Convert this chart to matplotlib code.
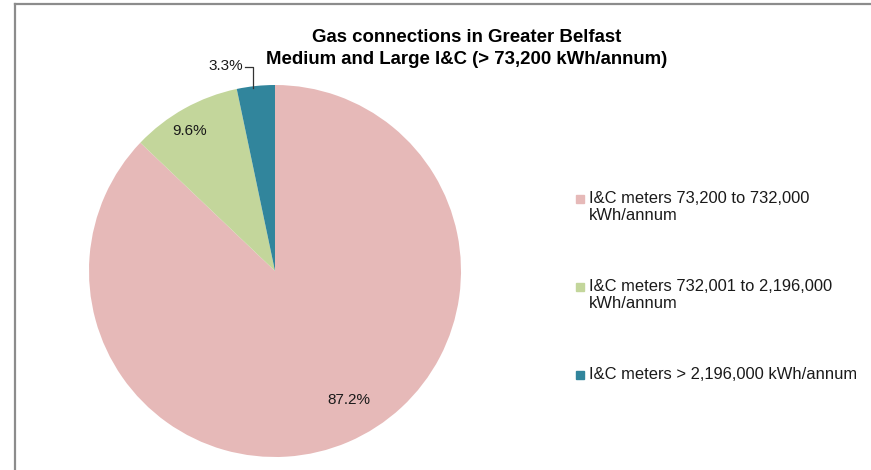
import matplotlib as mpl
mpl.use('Agg')
import matplotlib.pyplot as plt
from matplotlib.patches import Rectangle
import numpy as np

plt.rcParams['font.family'] = ['Liberation Sans', 'DejaVu Sans']

# Data
categories = ['I&C meters 73,200 to 732,000\nkWh/annum',
              'I&C meters 732,001 to 2,196,000\nkWh/annum',
              'I&C meters > 2,196,000 kWh/annum']
shares = [87.2, 9.6, 3.3]
share_labels = ['87.2%', '9.6%', '3.3%']
colors = ['#E6B9B8', '#C3D69B', '#31859C']

fig = plt.figure(figsize=(8.71, 4.70), dpi=100)

# frame lines (top and left, like the cropped chart border)
fig.add_artist(plt.Line2D([15/871, 1], [1 - 3.5/470, 1 - 3.5/470], color='#8c8c8c', lw=1.6))
fig.add_artist(plt.Line2D([15/871, 15/871], [0, 1 - 3.5/470], color='#8c8c8c', lw=1.6))

ax = fig.add_axes([89/871, 13/470, 372/871, 372/470])
wedges, _ = ax.pie(shares, colors=colors, startangle=90, counterclock=False,
                   radius=1, wedgeprops=dict(linewidth=0))
ax.set_xlim(-1, 1)
ax.set_ylim(-1, 1)
ax.set_aspect('equal')
ax.axis('off')

lab_font = dict(fontsize=11, color='#1a1a1a')
ax.text(0.395, -0.695, share_labels[0], ha='center', va='center', **lab_font)
ax.text(-0.462, 0.753, share_labels[1], ha='center', va='center', **lab_font)

# leader line for the small slice
w = wedges[2]
mid = np.deg2rad((w.theta1 + w.theta2) / 2)
px, py = np.cos(mid) * 1.15, np.sin(mid) * 0.99
ax.plot([px, px, px - 0.04], [py, 1.097, 1.097], color='#333333', lw=0.9, clip_on=False)
ax.text(px - 0.055, 1.1, share_labels[2], ha='right', va='center', **lab_font)

fig.text(467/871, 1 - 37/470, 'Gas connections in Greater Belfast', ha='center', va='center',
         fontsize=13.4, fontweight='bold')
fig.text(467/871, 1 - 60/470, 'Medium and Large I&C (> 73,200 kWh/annum)', ha='center', va='center',
         fontsize=13.4, fontweight='bold')

# legend
y0 = 199
gap = 88
for i, (lab, col) in enumerate(zip(categories, colors)):
    yc = y0 + i * gap
    fig.add_artist(Rectangle((576/871, 1 - (yc + 4)/470), 8/871, 8/470, color=col,
                             transform=fig.transFigure))
    fig.text(589/871, 1 - (yc - 8)/470, lab, ha='left', va='top', fontsize=11.9,
             color='#1a1a1a', linespacing=1.2)

plt.savefig('out.png', dpi=100)
